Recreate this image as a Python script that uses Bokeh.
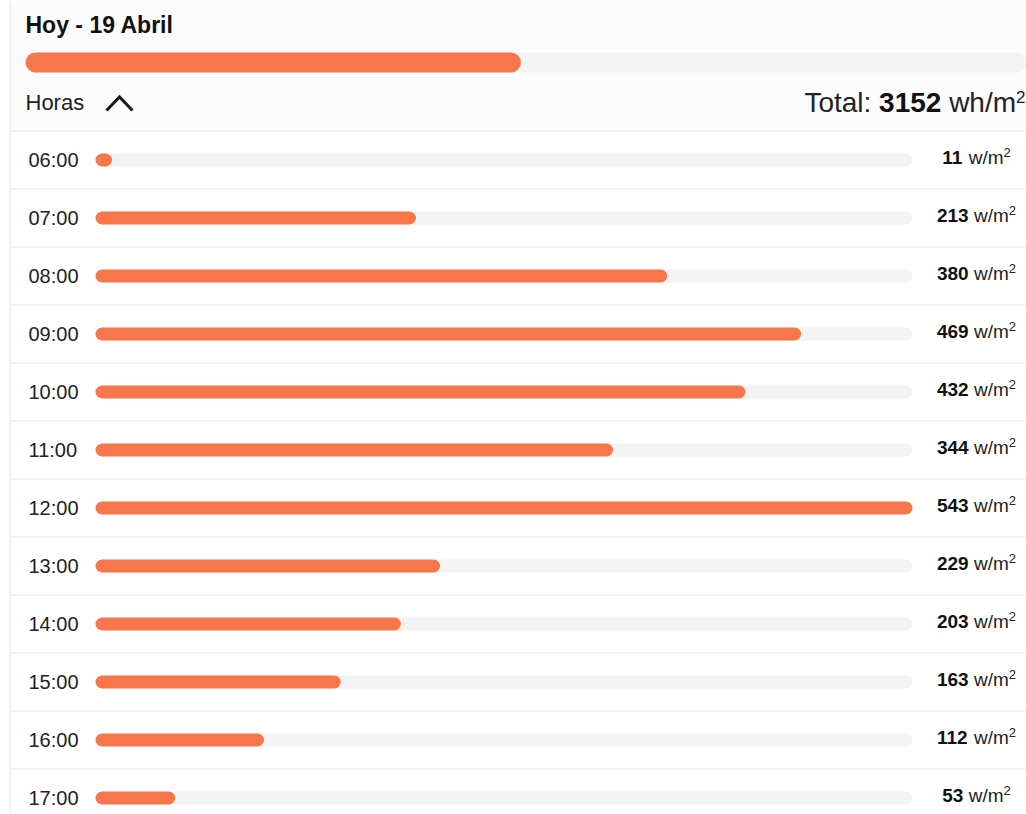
from bokeh.plotting import figure
from bokeh.models import Range1d
from bokeh.core.properties import value
from bokeh.embed import file_html
from bokeh.resources import INLINE

# ---------------- data ----------------
title = "Hoy - 19 Abril"
section_label = "Horas"
total_label = "Total:"
hours = ["06:00", "07:00", "08:00", "09:00", "10:00", "11:00",
         "12:00", "13:00", "14:00", "15:00", "16:00", "17:00"]
irradiance = [11, 213, 380, 469, 432, 344, 543, 229, 203, 163, 112, 53]
day_progress = [49.5]          # percent of the header bar
row_unit = "w/m"
total_unit = "wh/m"
unit_sup = "2"

# ---------------- layout constants (px) ----------------
W, H = 1026, 814
FONT = value("Liberation Sans")
ORANGE = "#f7774a"
TRACK = "#f3f3f3"
SEP = "#e4e4e4"
DARK = "#1a1a1a"

track_x0, track_x1 = 95, 912         # value axis 0 .. max
row0_y, row_h = 159.5, 58            # first row centre, row pitch
pct_x0, pct_x1 = 25, 1026            # header bar 0 .. 100 %

p = figure(width=W, height=H, x_range=Range1d(0, W), y_range=Range1d(H, 0),
           output_backend="svg", toolbar_location=None, min_border=0,
           x_axis_location=None, y_axis_location=None)
p.xgrid.visible = False
p.ygrid.visible = False
p.outline_line_color = None
p.background_fill_color = "white"
p.border_fill_color = "white"

vmax = max(irradiance)
ppu = (track_x1 - track_x0) / vmax
p.extra_x_ranges["val"] = Range1d(-track_x0 / ppu, (W - track_x0) / ppu)
ppp = (pct_x1 - pct_x0) / 100.0
p.extra_x_ranges["pct"] = Range1d(-pct_x0 / ppp, (W - pct_x0) / ppp)
p.extra_y_ranges["row"] = Range1d((H - row0_y) / row_h, -row0_y / row_h)

idx = list(range(len(hours)))

# header background + left border
p.quad(left=10, right=W, top=0, bottom=130, fill_color="#fcfcfc", line_color=None)
p.segment(x0=[9.5], y0=[0], x1=[9.5], y1=[H], line_color="#e2e2e2", line_width=1)

# separators
seps = [i - 0.5 for i in idx]
p.segment(x0=[10] * len(seps), x1=[W] * len(seps), y0=seps, y1=seps,
          y_range_name="row", line_color=SEP, line_width=1)

# header bar
p.hbar(y=[62], left=[0], right=[103], height=20, border_radius=10,
       fill_color=TRACK, line_color=None, x_range_name="pct")
p.hbar(y=[62], left=[0], right=day_progress, height=20, border_radius=10,
       fill_color=ORANGE, line_color=None, x_range_name="pct")

# row tracks and bars
bar_h = 13 / row_h
p.hbar(y=idx, left=0, right=[vmax] * len(idx), height=bar_h, border_radius=7,
       fill_color=TRACK, line_color=None, x_range_name="val", y_range_name="row")
p.hbar(y=idx, left=0, right=irradiance, height=bar_h, border_radius=7,
       fill_color=ORANGE, line_color=None, x_range_name="val", y_range_name="row")

# title / header texts
p.text(x=[25], y=[24], text=[title], text_font=FONT, text_font_size="23px",
       text_font_style="bold", text_color="#111111", text_baseline="middle")
p.text(x=[25], y=[102], text=[section_label], text_font=FONT, text_font_size="22px",
       text_color="#222222", text_baseline="middle")
p.line(x=[106, 119, 132], y=[110, 96.5, 110], line_width=3, line_color=DARK,
       line_join="miter")

# total (right aligned chain)
total_val = str(sum(irradiance))
fs, fsup = 28, 17
right = 1025
sup_w = 0.556 * fsup
unit_w = 2.389 * fs
space = 0.278 * fs
num_w = 0.556 * fs * len(total_val)
x_sup = right
x_unit = right - sup_w
x_num = x_unit - unit_w - space
x_tot = x_num - num_w - space
p.text(x=[x_sup], y=[96], text=[unit_sup], text_font=FONT, text_font_size=f"{fsup}px",
       text_color="#222222", text_align="right", text_baseline="middle")
p.text(x=[x_unit], y=[101.5], text=[total_unit], text_font=FONT, text_font_size=f"{fs}px",
       text_color="#222222", text_align="right", text_baseline="middle")
p.text(x=[x_num], y=[101.5], text=[total_val], text_font=FONT, text_font_size=f"{fs}px",
       text_font_style="bold", text_color="#111111", text_align="right",
       text_baseline="middle")
p.text(x=[x_tot], y=[101.5], text=[total_label], text_font=FONT, text_font_size=f"{fs}px",
       text_color="#222222", text_align="right", text_baseline="middle")

# hour labels
p.text(x=[28] * len(idx), y=idx, text=hours, y_range_name="row",
       text_font=FONT, text_font_size="20px", text_color="#222222",
       text_baseline="middle", text_align="left")

# value labels, centred at x = 976
fr, frs = 19, 13
cx = 976
vx, ux, sx = [], [], []
for v in irradiance:
    nd = len(str(v))
    wv = nd * 0.556 * fr
    sp = 0.278 * fr
    wu = 1.833 * fr
    ws = 0.556 * frs
    left = cx - (wv + sp + wu + ws) / 2
    vx.append(left)
    ux.append(left + wv + sp)
    sx.append(left + wv + sp + wu)
p.text(x=vx, y=idx, text=[str(v) for v in irradiance], y_range_name="row", y_offset=-3,
       text_font=FONT, text_font_size=f"{fr}px", text_font_style="bold",
       text_color="#111111", text_baseline="middle")
p.text(x=ux, y=idx, text=[row_unit] * len(idx), y_range_name="row", y_offset=-3,
       text_font=FONT, text_font_size=f"{fr}px", text_color="#222222",
       text_baseline="middle")
p.text(x=sx, y=idx, text=[unit_sup] * len(idx), y_range_name="row", y_offset=-8,
       text_font=FONT, text_font_size=f"{frs}px", text_color="#222222",
       text_baseline="middle")

open("out.html", "w").write(file_html(p, INLINE))
